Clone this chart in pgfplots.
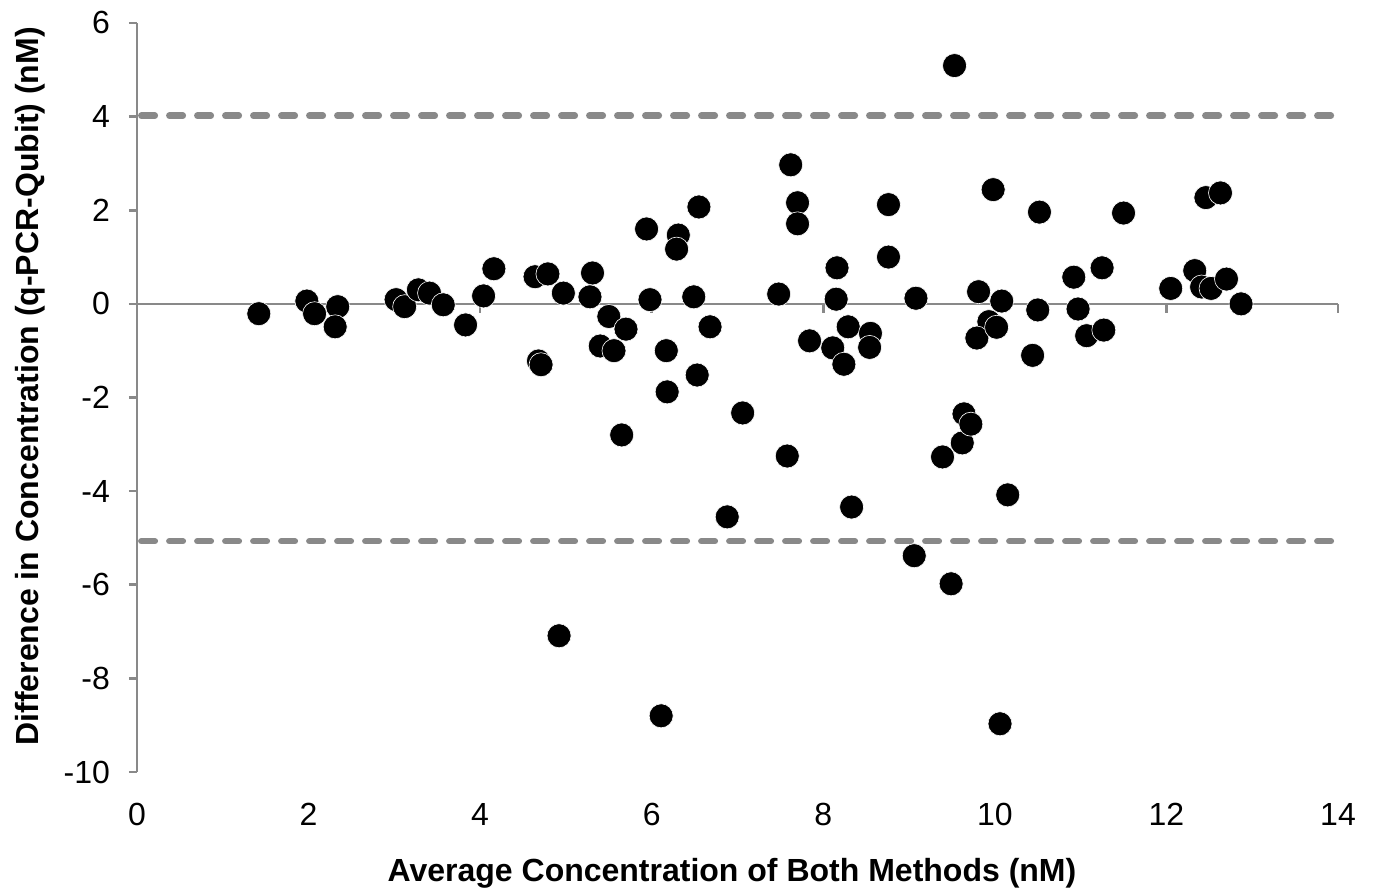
\documentclass[border=0pt]{standalone}
\usepackage{fontspec}
\setmainfont{Liberation Sans}
\usepackage{pgfplots}
\pgfplotsset{compat=1.18}
\definecolor{axgray}{HTML}{898989}
\pgfplotstableread{
x y
1.42 -0.21
1.98 0.06
2.07 -0.21
2.34 -0.06
2.31 -0.49
3.02 0.09
3.12 -0.06
3.28 0.30
3.41 0.23
3.57 -0.02
3.83 -0.45
4.04 0.17
4.16 0.75
4.64 0.58
4.79 0.64
4.97 0.23
4.68 -1.22
4.71 -1.30
5.31 0.66
5.28 0.15
5.50 -0.27
5.70 -0.54
5.40 -0.90
5.56 -1.00
5.94 1.60
5.98 0.09
6.31 1.47
6.29 1.17
6.55 2.07
6.49 0.15
6.68 -0.49
6.17 -1.00
6.53 -1.52
6.18 -1.88
5.65 -2.80
7.06 -2.33
7.48 0.21
7.62 2.97
7.70 2.16
7.70 1.71
7.84 -0.79
7.58 -3.25
6.88 -4.55
8.16 0.77
8.15 0.10
8.29 -0.49
8.11 -0.94
8.24 -1.29
8.55 -0.63
8.54 -0.93
8.33 -4.34
8.76 2.12
8.76 1.00
9.08 0.12
9.06 -5.38
9.49 -5.98
9.53 5.09
9.39 -3.27
9.62 -2.97
9.64 -2.35
9.72 -2.57
9.81 0.26
9.93 -0.38
9.79 -0.73
10.02 -0.50
9.98 2.44
10.08 0.06
10.15 -4.08
10.06 -8.97
10.52 1.96
10.50 -0.13
10.44 -1.10
10.92 0.57
10.97 -0.11
11.07 -0.68
11.25 0.77
11.27 -0.56
11.50 1.94
12.05 0.33
12.33 0.71
12.41 0.36
12.52 0.33
12.46 2.27
12.63 2.37
12.70 0.53
12.87 0.00
4.92 -7.09
6.11 -8.80
}\ptdata
\begin{document}
\fontsize{16}{19}\selectfont
\begin{tikzpicture}
\useasboundingbox (-68.5pt,-60pt) rectangle (618.5pt,386pt);
% zero line with downward ticks
\begin{axis}[
  at={(0,0)}, anchor=south west, scale only axis,
  width=600.5pt, height=374.5pt,
  xmin=0, xmax=14, ymin=-10, ymax=6,
  axis x line=middle, axis y line=none,
  x axis line style={-, draw=axgray, line width=1.3pt},
  xtick={2,4,...,14}, xticklabels={},
  tick align=outside, major tick length=4.5pt,
  major x tick style={draw=axgray, line width=1.3pt},
]
\end{axis}
\begin{axis}[
  at={(0,0)}, anchor=south west, scale only axis,
  width=600.5pt, height=374.5pt,
  xmin=0, xmax=14, ymin=-10, ymax=6,
  axis y line=left, axis x line=bottom,
  y axis line style={-, draw=axgray, line width=1.3pt},
  x axis line style={draw=none},
  xtick={0,2,...,14}, ytick={-10,-8,...,6},
  major x tick style={draw=none},
  major y tick style={draw=axgray, line width=1.3pt},
  tick align=outside, major tick length=4pt,
  /pgf/number format/assume math mode=true,
  ticklabel style={font=\fontsize{16}{19}\selectfont, text=black},
  xticklabel style={yshift=-6pt},
  yticklabel style={xshift=-4pt},
  xlabel={\bfseries Average Concentration of Both Methods (nM)},
  ylabel={\bfseries Difference in Concentration (q-PCR-Qubit) (nM)},
  label style={font=\fontsize{16}{19}\selectfont},
  xlabel style={at={(axis description cs:0.4954,-0.135)}, anchor=center},
  ylabel style={at={(axis description cs:-0.089,0.515)}, anchor=center},
  clip=false,
]
\addplot[axgray, line width=3.2pt, line cap=round, dash pattern=on 6.8pt off 7.2pt] coordinates {(0.05,4.02) (14,4.02)};
\addplot[axgray, line width=3.2pt, line cap=round, dash pattern=on 6.8pt off 7.2pt] coordinates {(0.05,-5.07) (14,-5.07)};
\addplot[only marks, mark=*, mark size=6pt, mark options={fill=black, draw=white, line width=0.3pt}] table[x=x,y=y] {\ptdata};
\end{axis}
\end{tikzpicture}
\end{document}
